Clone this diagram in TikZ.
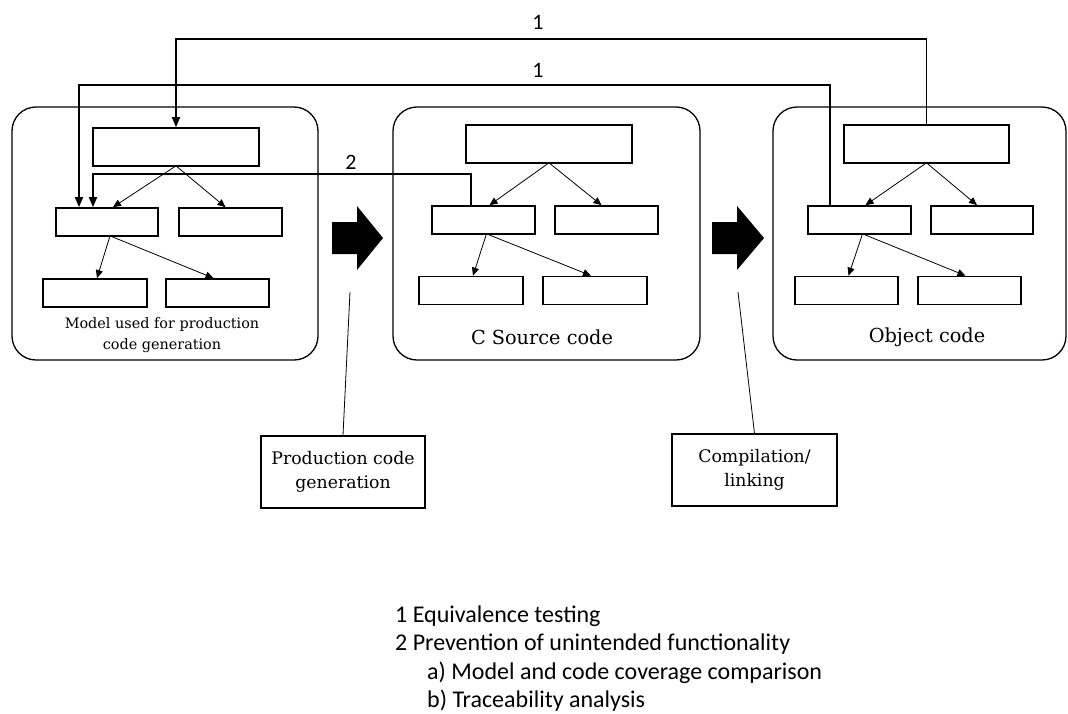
\documentclass[tikz,border=0pt]{standalone}
\usepackage{fontspec}
\setmainfont{DejaVu Serif}
\newfontfamily\legendfont{Carlito}
\usetikzlibrary{arrows.meta,calc}

\begin{document}
\begin{tikzpicture}[x=1pt,y=-1pt,
  container/.style={draw, rounded corners=24pt, line width=1.3pt, inner sep=0pt},
  blk/.style={draw, line width=1.7pt, inner sep=0pt, minimum height=28pt},
  topblk/.style={blk, minimum height=38pt},
  thinarr/.style={line width=0.8pt, -{Triangle[length=8pt,width=7pt]}},
  conn/.style={line width=1.8pt, -{Triangle[length=10pt,width=8pt]}},
  callout/.style={draw, inner sep=0pt, align=center, font=\fontsize{17.3}{23.5}\selectfont},
  boxlabel/.style={font=\fontsize{19.3}{22}\selectfont},
  numlabel/.style={font=\legendfont\fontsize{22}{24}\selectfont},
  legend/.style={anchor=base west, inner sep=0pt, font=\legendfont\fontsize{24}{28}\selectfont},
  bigarrow/.style={fill=black}
]
\useasboundingbox (0,0) rectangle (1068,713);

% ---- containers ----
\node[container, minimum width=306pt, minimum height=253pt] (m1) at (165,233.5) {};
\node[container, minimum width=307pt, minimum height=253pt] (m2) at (546.5,233.5) {};
\node[container, minimum width=293pt, minimum height=253pt] (m3) at (919.5,233.5) {};

% ---- model blocks ----
\node[topblk, minimum width=166pt] (t1) at (176,147) {};
\node[blk, minimum width=102pt] (l1) at (107,222) {};
\node[blk, minimum width=103pt] (r1) at (230.5,222) {};
\node[blk, minimum width=104pt] (bl1) at (95,293) {};
\node[blk, minimum width=103pt] (br1) at (217.5,293) {};

% ---- source code blocks ----
\node[topblk, minimum width=166pt] (t2) at (549,144) {};
\node[blk, minimum width=103pt] (l2) at (483.5,220) {};
\node[blk, minimum width=103pt] (r2) at (606.5,220) {};
\node[blk, minimum width=104pt] (bl2) at (471,290.5) {};
\node[blk, minimum width=104pt] (br2) at (595,290.5) {};

% ---- object code blocks ----
\node[topblk, minimum width=165pt] (t3) at (926.5,144) {};
\node[blk, minimum width=103pt] (l3) at (859.5,220) {};
\node[blk, minimum width=102pt] (r3) at (982,220) {};
\node[blk, minimum width=103pt] (bl3) at (846.5,290.5) {};
\node[blk, minimum width=103pt] (br3) at (969.5,290.5) {};

% ---- tree edges inside each container ----
\foreach \i in {1,2,3} {
  \draw[thinarr] ([yshift=1pt]t\i.south) -- ([xshift=6pt]l\i.north);
  \draw[thinarr] ([yshift=1pt]t\i.south) -- ([xshift=-5pt]r\i.north);
  \draw[thinarr] ([xshift=3pt,yshift=1pt]l\i.south) -- ([xshift=2pt]bl\i.north);
  \draw[thinarr] ([xshift=3pt,yshift=1pt]l\i.south) -- ([xshift=-4pt]br\i.north);
}

% ---- container labels ----
\node[align=center, font=\fontsize{14.4}{21}\selectfont] (lab1) at (162,335.5)
  {Model used for production\\code generation};
\node[boxlabel] (lab2) at (542,337) {C Source code};
\node[boxlabel] (lab3) at (927,337) {Object code};

% ---- equivalence / prevention connectors ----
\draw[conn] (t3.north) -- ++(0,-85) -| (t1.north);
\draw[conn] ([xshift=-29.5pt]l3.north) -- ++(0,-120) -| ([xshift=-28pt]l1.north);
\draw[conn] ([xshift=-12.5pt]l2.north) -- ++(0,-31) -| ([xshift=-14pt]l1.north);
\node[numlabel] (n1a) at (538,22) {1};
\node[numlabel] (n1b) at (538,70) {1};
\node[numlabel] (n2) at (351,162) {2};

% ---- transformation arrows ----
\fill[bigarrow] (332,222) -- (357,222) -- (357,206) -- (383,238) -- (357,270) -- (357,254) -- (332,254) -- cycle;
\fill[bigarrow] (712,222) -- (737,222) -- (737,206) -- (764,238) -- (737,270) -- (737,254) -- (712,254) -- cycle;

% ---- step callouts ----
\node[callout, line width=1.7pt, minimum width=164pt, minimum height=72pt] (pcg) at (343,472)
  {Production code\\generation};
\node[callout, line width=1.1pt, minimum width=165pt, minimum height=72pt] (cl) at (754.5,470)
  {Compilation/\\linking};
\coordinate (p1) at (350,292);
\coordinate (p2) at (738,292);
\draw[line width=0.8pt] (p1) -- (pcg.north);
\draw[line width=0.8pt] (p2) -- (cl.north);

% ---- legend ----
\node[legend] (g1) at (395,622) {1 Equivalence testing};
\node[legend] (g2) at (395,650.5) {2 Prevention of unintended functionality};
\node[legend] (g3) at (427,679) {a) Model and code coverage comparison};
\node[legend] (g4) at (427,707.5) {b) Traceability analysis};
\end{tikzpicture}
\end{document}
